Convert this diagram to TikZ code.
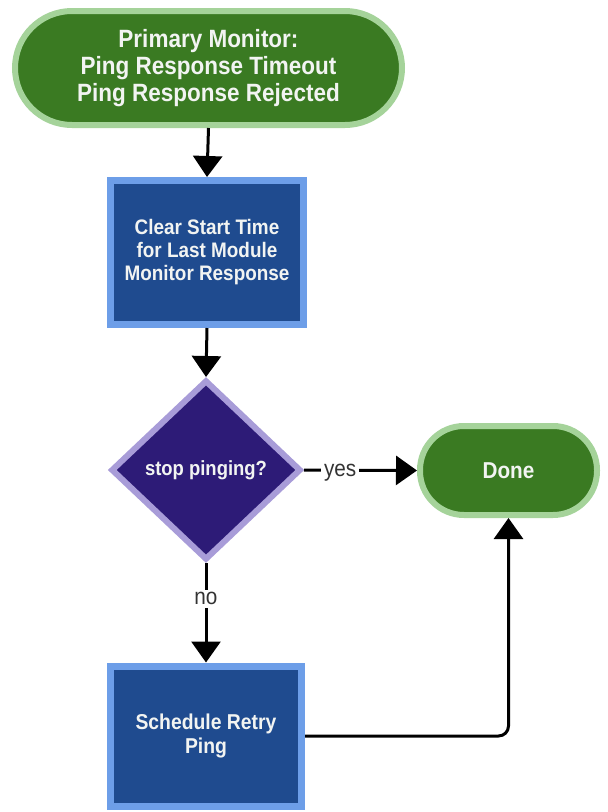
\documentclass[tikz,border=0pt]{standalone}
\usepackage{fontspec}
\setmainfont{Liberation Sans}[FakeStretch=0.9]
\usetikzlibrary{shapes.geometric,arrows.meta}
\definecolor{termfill}{HTML}{3A7A22}
\definecolor{termline}{HTML}{A5D39A}
\definecolor{procfill}{HTML}{1F4B8F}
\definecolor{procline}{HTML}{6D9EE8}
\definecolor{decfill}{HTML}{2D1B77}
\definecolor{decline}{HTML}{A89CD8}
\definecolor{txtwhite}{HTML}{F2F4F2}
\definecolor{lblgray}{HTML}{333333}
\begin{document}
\begin{tikzpicture}[x=1pt,y=-1pt,
  term/.style={rectangle, fill=termfill, draw=termline, line width=6pt, text=txtwhite, align=center, inner sep=0pt, font=\bfseries},
  proc/.style={rectangle, fill=procfill, draw=procline, line width=7pt, text=txtwhite, align=center, inner sep=0pt, font=\bfseries},
  dec/.style={diamond, fill=decfill, draw=decline, line width=6pt, text=txtwhite, align=center, inner sep=0pt, font=\bfseries},
  arr/.style={draw=black, line width=3pt, -{Triangle[width=29pt,length=21pt]}},
  lbl/.style={fill=white, text=lblgray, inner sep=3pt, font=\fontsize{23}{27}\selectfont}]
\useasboundingbox (0,0) rectangle (608,812);
\node[term, minimum width=387pt, minimum height=114pt, rounded corners=57pt,
      font=\bfseries\fontsize{25}{27}\selectfont] (start) at (208.5,68)
  {Primary Monitor:\\Ping Response Timeout\\Ping Response Rejected};
\node[proc, minimum width=193pt, minimum height=144pt,
      font=\bfseries\fontsize{21}{23}\selectfont] (clear) at (207,252.5)
  {Clear Start Time\\for Last Module\\Monitor Response};
\node[dec, minimum width=190pt, minimum height=180pt,
      font=\bfseries\fontsize{20.5}{24}\selectfont] (stop) at (206,470)
  {stop pinging?};
\node[term, minimum width=177pt, minimum height=89pt, rounded corners=44pt,
      font=\bfseries\fontsize{23}{27}\selectfont] (done) at (508.5,470.5)
  {Done};
\node[proc, minimum width=191pt, minimum height=140pt,
      font=\bfseries\fontsize{21.5}{24}\selectfont] (retry) at (206,736)
  {Schedule Retry\\Ping};
\draw[arr] (start.south) -- (clear.north);
\draw[arr] (clear.south) -- (stop.north);
\draw[arr] (stop.east) -- node[lbl, pos=0.32, yshift=-3pt] {yes} (done.west);
\draw[arr] (stop.south) -- node[lbl, pos=0.36] {no} (retry.north);
\draw[arr, rounded corners=10pt] (retry.east) -| (done.south);
\end{tikzpicture}
\end{document}
